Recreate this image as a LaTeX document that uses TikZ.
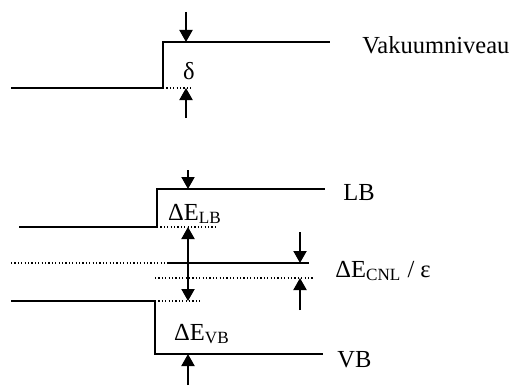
\documentclass[tikz,border=0pt]{standalone}
\usepackage{fontspec}
\setmainfont{Liberation Serif}
\usetikzlibrary{arrows.meta}
\begin{document}
\begin{tikzpicture}[x=0.5pt,y=-0.5pt,
  lvl/.style={line width=1pt},
  dotl/.style={line width=0.6pt,dash pattern=on 0.6pt off 1.1pt},
  arr/.style={line width=1pt,-{Triangle[length=6pt,width=6.5pt]}},
  darr/.style={line width=1pt,{Triangle[length=6pt,width=6.5pt]}-{Triangle[length=6pt,width=6.5pt]}},
  lbl/.style={inner sep=0pt,font=\fontsize{12.25}{14}\selectfont}]
\useasboundingbox (0,0) rectangle (512,385);
% vacuum level
\draw[lvl] (11,88) -- (163,88) -- (163,42) -- (330,42);
\draw[dotl] (163,88) -- (193,88);
\coordinate (va1) at (186,12); \coordinate (va2) at (186,42);
\coordinate (vb1) at (186,118); \coordinate (vb2) at (186,88);
\draw[arr] (va1) -- (va2);
\draw[arr] (vb1) -- (vb2);
\node[lbl] (delta) at (189,71) {δ};
\node[lbl,anchor=west] (vak) at (362,45) {Vakuumniveau};
% conduction band
\draw[lvl] (19,227) -- (157,227) -- (157,189) -- (325,189);
\draw[dotl] (157,227) -- (218,227);
\coordinate (la1) at (188,170); \coordinate (la2) at (188,189);
\draw[arr] (la1) -- (la2);
\node[lbl] (dlb) at (195,214) {ΔE\textsubscript{LB}};
\node[lbl,anchor=west] (lb) at (343,193) {LB};
% CNL
\draw[dotl] (11,263) -- (167,263);
\draw[lvl] (167,263) -- (309,263);
\draw[dotl] (155,278) -- (313,278);
\coordinate (ca1) at (300,232); \coordinate (ca2) at (300,263);
\coordinate (cb1) at (300,310); \coordinate (cb2) at (300,278);
\draw[arr] (ca1) -- (ca2);
\draw[arr] (cb1) -- (cb2);
\node[lbl,anchor=west] (cnl) at (335,271) {ΔE\textsubscript{CNL} / ε};
% double arrow
\coordinate (d1) at (188,227); \coordinate (d2) at (188,301);
\draw[darr] (d1) -- (d2);
% valence band
\draw[lvl] (11,301) -- (155,301) -- (155,354) -- (323,354);
\draw[dotl] (155,301) -- (200,301);
\coordinate (wa1) at (188,385); \coordinate (wa2) at (188,354);
\draw[arr] (wa1) -- (wa2);
\node[lbl] (dvb) at (202,334) {ΔE\textsubscript{VB}};
\node[lbl,anchor=west] (vb) at (337,360) {VB};
\end{tikzpicture}
\end{document}
